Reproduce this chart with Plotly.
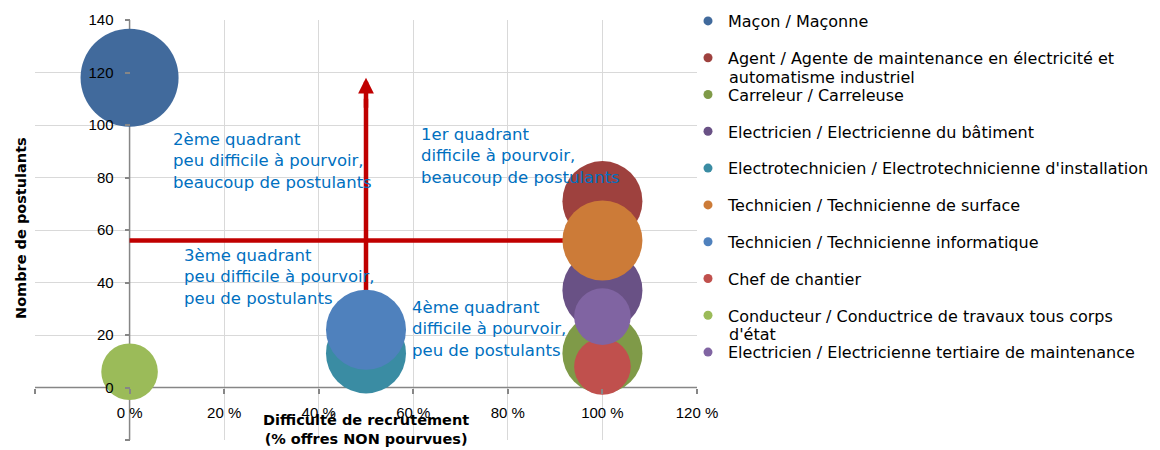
import plotly.graph_objects as go

# ---------------- data ----------------
CATEGORIES = [
    "Maçon / Maçonne",
    "Agent / Agente de maintenance en électricité et<br>automatisme industriel",
    "Carreleur / Carreleuse",
    "Electricien / Electricienne du bâtiment",
    "Electrotechnicien / Electrotechnicienne d'installation",
    "Technicien / Technicienne de surface",
    "Technicien / Technicienne informatique",
    "Chef de chantier",
    "Conducteur / Conductrice de travaux tous corps<br>d'état",
    "Electricien / Electricienne tertiaire de maintenance",
]
DIFFICULTY = [0, 100, 100, 100, 50, 100, 50, 100, 0, 100]      # % offres non pourvues
APPLICANTS = [118, 71, 13, 37, 13, 56, 22, 8, 6, 27]          # nombre de postulants
BUBBLE_SIZE = [3, 2, 2, 2, 2, 2, 2, 1, 1, 1]

X_TICKS = [-20, 0, 20, 40, 60, 80, 100, 120]
X_TICK_LABELS = ["", "0 %", "20 %", "40 %", "60 %", "80 %", "100 %", "120 %"]
Y_TICKS = [-20, 0, 20, 40, 60, 80, 100, 120, 140]
Y_TICK_LABELS = ["", "0", "20", "40", "60", "80", "100", "120", "140"]

QUADRANT_LABELS = [
    "2ème quadrant<br>peu difficile à pourvoir,<br>beaucoup de postulants",
    "1er quadrant<br>difficile à pourvoir,<br>beaucoup de postulants",
    "3ème quadrant<br>peu difficile à pourvoir,<br>peu de postulants",
    "4ème quadrant<br>difficile à pourvoir,<br>peu de postulants",
]
X_TITLE = "Difficulté de recrutement<br>(% offres NON pourvues)"
Y_TITLE = "Nombre de postulants"

# ---------------- styles / positions ----------------
COLORS = ["#416A9C", "#9E413E", "#7F9A48", "#695185", "#3A8CA3",
          "#CC7B38", "#4F81BD", "#C0504D", "#9BBB59", "#8064A2"]
QUADRANT_POS = [(8.7, 98.7), (61.2, 100.6), (11.1, 54.5), (59.3, 35.0)]
THRESH_X = 50
THRESH_Y = 56
ARROW_TOP = 118
MAX_DIAMETER_PX = 98

PAGE_OFF = 8                      # default body margin of the html page
W, H = 1160 - PAGE_OFF, 450 - PAGE_OFF
# plot area in window pixels: left 35, right 697, top 20, bottom 440
ML, MT = 35 - PAGE_OFF, 20 - PAGE_OFF
MR = W - (697 - PAGE_OFF)
MB = H - (440 - PAGE_OFF)
PW, PH = W - ML - MR, H - MT - MB
X_RANGE = [-20, 120]
Y_RANGE = [-20, 140]

TXT_FONT = "DejaVu Sans"
TICK_FONT = "Liberation Sans"
RED = "#C00000"
BLUE_TXT = "#0070C0"


def px_x(p):
    """window pixel x -> paper fraction"""
    return (p - PAGE_OFF - ML) / PW


def px_y(p):
    """window pixel y -> paper fraction"""
    return (H + PAGE_OFF - MB - p) / PH


sizeref = 2.0 * max(BUBBLE_SIZE) / MAX_DIAMETER_PX ** 2

fig = go.Figure()

for i, name in enumerate(CATEGORIES):
    first_line = name.split("<br>")[0]
    fig.add_trace(go.Scatter(
        x=[DIFFICULTY[i]], y=[APPLICANTS[i]], mode="markers",
        name=first_line, legendgroup=f"g{i}", showlegend=False,
        marker=dict(size=[BUBBLE_SIZE[i]], sizemode="area", sizeref=sizeref,
                    color=COLORS[i], opacity=1, line=dict(width=0)),
        hovertemplate=name.replace("<br>", " ") + "<br>%{x} %, %{y}<extra></extra>",
    ))
    # legend entry (small constant symbol)
    fig.add_trace(go.Scatter(
        x=[None], y=[None], mode="markers", name=first_line,
        legendgroup=f"g{i}", showlegend=True,
        marker=dict(size=9, color=COLORS[i], line=dict(width=0)),
    ))

shapes = [
    # axis lines (beneath bubbles)
    dict(type="line", xref="x", yref="y", x0=X_RANGE[0], x1=X_RANGE[1], y0=0, y1=0,
         line=dict(color="#868686", width=1.5), layer="between"),
    dict(type="line", xref="x", yref="y", x0=0, x1=0, y0=Y_RANGE[0], y1=Y_RANGE[1],
         line=dict(color="#868686", width=1.5), layer="between"),
    # quadrant separators
    dict(type="line", xref="x", yref="y", x0=0, x1=100, y0=THRESH_Y, y1=THRESH_Y,
         line=dict(color=RED, width=4.5), layer="between"),
    dict(type="line", xref="x", yref="y", x0=THRESH_X, x1=THRESH_X, y0=0, y1=ARROW_TOP - 8,
         line=dict(color=RED, width=4.5), layer="between"),
]

annotations = [
    dict(x=THRESH_X, y=ARROW_TOP, ax=THRESH_X, ay=ARROW_TOP - 12, xref="x", yref="y",
         axref="x", ayref="y", text="", showarrow=True, arrowhead=2, arrowsize=0.7,
         arrowwidth=4.5, arrowcolor=RED),
]
for (qx, qy), label in zip(QUADRANT_POS, QUADRANT_LABELS):
    annotations.append(dict(x=qx, y=qy, xref="x", yref="y", text=label, showarrow=False,
                            xanchor="left", yanchor="top", align="left",
                            font=dict(family=TXT_FONT, size=16.5, color=BLUE_TXT)))

annotations.append(dict(x=px_x(21), y=px_y(228), xref="paper", yref="paper", text=Y_TITLE,
                        textangle=-90, showarrow=False, xanchor="center", yanchor="middle",
                        font=dict(family=TXT_FONT, size=14.5, color="#000000", weight="bold")))
annotations.append(dict(x=px_x(366), y=px_y(429.5), xref="paper", yref="paper", text=X_TITLE,
                        showarrow=False, xanchor="center", yanchor="middle", align="center",
                        font=dict(family=TXT_FONT, size=14.5, color="#000000", weight="bold")))

# wrapped continuation of long legend labels
LEGEND_TOP = 21
LEGEND_STEP = 36.8
for i, name in enumerate(CATEGORIES):
    parts = name.split("<br>")
    if len(parts) > 1:
        annotations.append(dict(x=px_x(727), y=px_y(LEGEND_TOP + LEGEND_STEP * i + 19.5),
                                xref="paper", yref="paper", text="<br>".join(parts[1:]),
                                showarrow=False, xanchor="left", yanchor="middle", align="left",
                                font=dict(family=TXT_FONT, size=16, color="#000000")))

fig.update_layout(
    width=W, height=H, autosize=False,
    margin=dict(l=ML, r=MR, t=MT, b=MB, autoexpand=False),
    paper_bgcolor="white", plot_bgcolor="white",
    showlegend=True,
    legend=dict(x=px_x(688), y=px_y(4), xanchor="left", yanchor="top",
                font=dict(family=TXT_FONT, size=16, color="#000000"),
                tracegroupgap=13, traceorder="grouped", bgcolor="rgba(0,0,0,0)",
                maxheight=440, itemclick=False, itemdoubleclick=False),
    xaxis=dict(range=X_RANGE, tickmode="array", tickvals=X_TICKS, ticktext=X_TICK_LABELS,
               showgrid=True, gridcolor="#D9D9D9", gridwidth=1, zeroline=False,
               showline=False, ticks="outside", ticklen=5, tickcolor="#868686", tickwidth=1.5,
               anchor="free", position=(0 - Y_RANGE[0]) / (Y_RANGE[1] - Y_RANGE[0]),
               ticklabelstandoff=6,
               tickfont=dict(family=TICK_FONT, size=15, color="#000000"), fixedrange=True),
    yaxis=dict(range=Y_RANGE, tickmode="array", tickvals=Y_TICKS, ticktext=Y_TICK_LABELS,
               showgrid=True, gridcolor="#D9D9D9", gridwidth=1, zeroline=False,
               showline=False, ticks="outside", ticklen=5, tickcolor="#868686", tickwidth=1.5,
               anchor="free", position=(0 - X_RANGE[0]) / (X_RANGE[1] - X_RANGE[0]),
               ticklabelstandoff=8,
               tickfont=dict(family=TICK_FONT, size=15, color="#000000"), fixedrange=True),
    shapes=shapes,
    annotations=annotations,
)

fig.write_html("out.html")
